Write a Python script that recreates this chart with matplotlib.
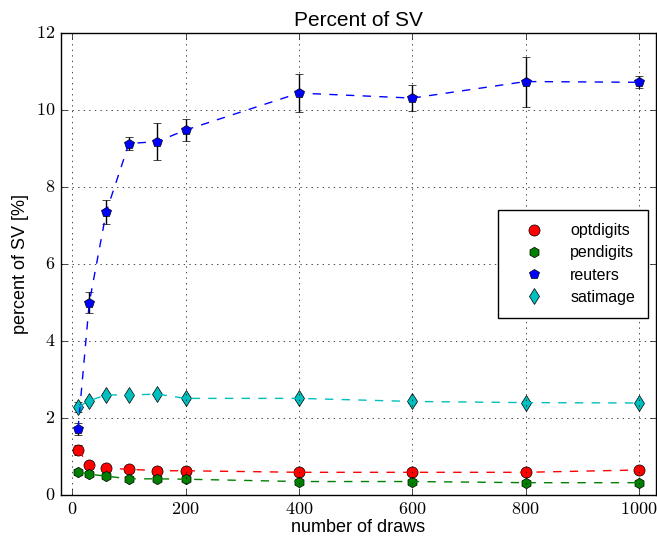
import matplotlib
matplotlib.use('Agg')
import matplotlib.pyplot as plt
from matplotlib.ticker import FuncFormatter
import numpy as np

plt.style.use('classic')
plt.rcParams['font.family'] = ['Liberation Sans', 'DejaVu Sans']
plt.rcParams['mathtext.fontset'] = 'cm'

draws = [10, 30, 60, 100, 150, 200, 400, 600, 800, 1000]

optdigits = [1.17, 0.77, 0.69, 0.67, 0.63, 0.63, 0.59, 0.59, 0.59, 0.65]
optdigits_err = [0.14, 0.04, 0.03, 0.02, 0.02, 0.02, 0.02, 0.02, 0.02, 0.02]

pendigits = [0.60, 0.54, 0.49, 0.42, 0.42, 0.41, 0.35, 0.35, 0.32, 0.32]
pendigits_err = [0.08, 0.04, 0.03, 0.02, 0.02, 0.02, 0.02, 0.02, 0.01, 0.01]

reuters = [1.71, 5.00, 7.36, 9.13, 9.18, 9.48, 10.44, 10.31, 10.74, 10.72]
reuters_err = [0.15, 0.28, 0.31, 0.16, 0.47, 0.28, 0.49, 0.34, 0.65, 0.16]

satimage = [2.28, 2.45, 2.60, 2.60, 2.62, 2.51, 2.51, 2.43, 2.40, 2.39]
satimage_err = [0.13, 0.05, 0.04, 0.03, 0.03, 0.03, 0.03, 0.03, 0.03, 0.03]

series = [
    ('optdigits', optdigits, optdigits_err, 'r', 'o', 8),
    ('pendigits', pendigits, pendigits_err, 'g', 'h', 7.5),
    ('reuters', reuters, reuters_err, 'b', 'p', 7),
    ('satimage', satimage, satimage_err, 'c', 'd', 8),
]

fig = plt.figure(figsize=(6.57, 5.37), dpi=100, facecolor='white')
ax = fig.add_axes([0.0928, 0.0782, 0.9056, 0.8603])

for name, vals, err, col, mk, ms in series:
    ax.errorbar(draws, vals, yerr=err, fmt='--', color=col, ecolor='k',
                elinewidth=1, capsize=3, linewidth=1)
    ax.plot(draws, vals, linestyle='none', marker=mk, color=col,
            markeredgecolor='k', markersize=ms, label=name)

ax.set_xlim(-20, 1030)
ax.set_ylim(0, 12)
ax.set_xticks([0, 200, 400, 600, 800, 1000])
ax.set_yticks([0, 2, 4, 6, 8, 10, 12])
fmt = FuncFormatter(lambda v, p: r'$%g$' % v)
ax.xaxis.set_major_formatter(fmt)
ax.yaxis.set_major_formatter(fmt)
ax.tick_params(labelsize=13)
ax.grid(True)

ax.set_title('Percent of SV', fontsize=15)
ax.set_xlabel('number of draws', fontsize=13, labelpad=1)
ax.set_ylabel('percent of SV [%]', fontsize=13)

ax.legend(loc='center right', numpoints=1, fontsize=11.5, borderaxespad=0.5,
          borderpad=0.8, handlelength=2.8, handletextpad=0.9, labelspacing=0.45)

fig.savefig('out.png', dpi=100, facecolor='white')
